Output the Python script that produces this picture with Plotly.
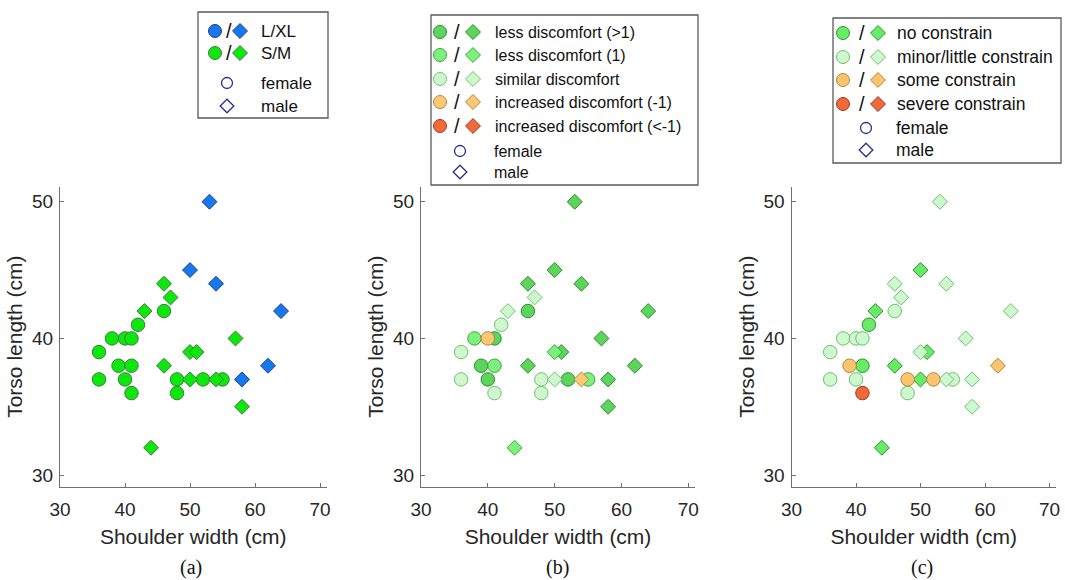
import plotly.graph_objects as go

# ---------------- data ----------------
shoulder = [36, 36, 38, 40, 41, 39, 41, 40, 41, 42, 46, 48, 48, 52, 55,
            43, 46, 47, 44, 46, 50, 51, 50, 54, 57, 58, 53, 50, 54, 64, 62, 58]
torso = [39, 37, 40, 40, 40, 38, 38, 37, 36, 41, 42, 37, 36, 37, 37,
         42, 44, 43, 32, 38, 39, 39, 37, 37, 40, 35, 50, 45, 44, 42, 38, 37]
gender = ["F"] * 15 + ["M"] * 17
garment = ["S/M"] * 26 + ["L/XL"] * 6
discomfort = ["sim", "sim", "eq1", "inc1", "gt1", "gt1", "eq1", "gt1", "sim", "sim", "gt1", "sim", "sim", "gt1", "eq1",
              "sim", "gt1", "sim", "eq1", "gt1", "eq1", "gt1", "sim", "inc1", "gt1", "gt1", "gt1", "gt1", "gt1", "gt1", "gt1", "gt1"]
constrain = ["minor", "minor", "minor", "minor", "minor", "some", "no", "minor", "severe", "no", "minor", "some", "minor", "some", "minor",
             "no", "minor", "minor", "no", "no", "minor", "no", "no", "minor", "minor", "minor", "minor", "no", "minor", "minor", "some", "minor"]

size_keys = ["L/XL", "S/M"]
size_labels = ["L/XL", "S/M"]
disc_keys = ["gt1", "eq1", "sim", "inc1", "inc2"]
disc_labels = ["less discomfort (>1)", "less discomfort (1)", "similar discomfort",
               "increased discomfort (-1)", "increased discomfort (<-1)"]
cons_keys = ["no", "minor", "some", "severe"]
cons_labels = ["no constrain", "minor/little constrain", "some constrain", "severe constrain"]

x_ticks = [30, 40, 50, 60, 70]
y_ticks = [30, 40, 50]

# ---------------- styles ----------------
STY = {
    "L/XL": ("#1677f0", "#243f86"),
    "S/M": ("#0ce80c", "#3f7a3f"),
    "gt1": ("#5dd55d", "#2b8c2b"),
    "eq1": ("#7df17d", "#3ca83c"),
    "sim": ("#cff6cf", "#6cc46c"),
    "inc1": ("#fdc776", "#ad8a3c"),
    "inc2": ("#f4693b", "#9c3f1c"),
    "no": ("#68ec68", "#2c922c"),
    "minor": ("#d0f8d0", "#68c268"),
    "some": ("#fcc46e", "#a88a40"),
    "severe": ("#f2683a", "#983a1a"),
}
SYM = {"F": "circle", "M": "diamond"}
MSIZE = {"F": 13.5, "M": 11.5}
W, H = 1065, 580
FONT = "Liberation Sans, Arial, sans-serif"

fig = go.Figure()

def px(x):
    return x / W

def py(y):
    return 1 - y / H

panels = [("x", "y", garment, size_keys), ("x2", "y2", discomfort, disc_keys), ("x3", "y3", constrain, cons_keys)]
for xa, ya, cat, keys in panels:
    for k in keys:
        for g in ["F", "M"]:
            idx = [i for i in range(len(shoulder)) if cat[i] == k and gender[i] == g]
            if not idx:
                continue
            fig.add_trace(go.Scatter(
                x=[shoulder[i] for i in idx], y=[torso[i] for i in idx],
                mode="markers", xaxis=xa, yaxis=ya, showlegend=False, hoverinfo="skip",
                marker=dict(symbol=SYM[g], size=MSIZE[g], color=STY[k][0],
                            line=dict(color=STY[k][1], width=1))))

# ---------------- axes ----------------
xdoms = [(60, 326.5), (421, 695), (791.5, 1056)]
ydom = [py(486.7), py(186.7)]
axstyle = dict(showline=True, linecolor="#707070", linewidth=1.3, ticks="inside", ticklen=4,
               tickcolor="#707070", showgrid=False, zeroline=False, automargin=False,
               tickfont=dict(family=FONT, size=19, color="#262626"))
for i, (a, b) in enumerate(xdoms):
    s = "" if i == 0 else str(i + 1)
    fig.layout["xaxis" + s] = dict(domain=[px(a), px(b)], range=[30, 71], tickvals=x_ticks,
                                   anchor="y" + s, fixedrange=True, ticklabelstandoff=5,
                                   title=dict(text="Shoulder width (cm)", standoff=10,
                                              font=dict(family=FONT, size=21, color="#262626")),
                                   **axstyle)
    fig.layout["yaxis" + s] = dict(domain=ydom, range=[29.15, 51.1], tickvals=y_ticks,
                                   anchor="x" + s, fixedrange=True, ticklabelstandoff=2,
                                   title=dict(text="Torso length (cm)", standoff=3,
                                              font=dict(family=FONT, size=21, color="#262626")),
                                   **axstyle)

# overlay axis in pixel units for the legend boxes
fig.layout["xaxis4"] = dict(domain=[0, 1], range=[0, W], visible=False, anchor="y4", fixedrange=True, automargin=False)
fig.layout["yaxis4"] = dict(domain=[0, 1], range=[H, 0], visible=False, anchor="x4", fixedrange=True, automargin=False)

annotations = []
shapes = []

def legend(box, rows, cx, sx, dx, tx, gx, gtx, keys, labels, fs):
    x0, y0, x1, y1 = box
    shapes.append(dict(type="rect", xref="x4", yref="y4", x0=x0, y0=y0, x1=x1, y1=y1,
                       line=dict(color="#5a5a5a", width=1.3), fillcolor="rgba(0,0,0,0)"))
    for r, (k, lab) in zip(rows, zip(keys, labels)):
        fig.add_trace(go.Scatter(x=[cx], y=[r], xaxis="x4", yaxis="y4", mode="markers",
                                 showlegend=False, hoverinfo="skip",
                                 marker=dict(symbol="circle", size=13, color=STY[k][0],
                                             line=dict(color=STY[k][1], width=1))))
        fig.add_trace(go.Scatter(x=[dx], y=[r], xaxis="x4", yaxis="y4", mode="markers",
                                 showlegend=False, hoverinfo="skip",
                                 marker=dict(symbol="diamond", size=11.5, color=STY[k][0],
                                             line=dict(color=STY[k][1], width=1))))
        annotations.append(dict(x=sx, y=r, xref="x4", yref="y4", text="/", showarrow=False,
                                font=dict(family=FONT, size=20, color="#111")))
        annotations.append(dict(x=tx, y=r, xref="x4", yref="y4", text=lab, showarrow=False,
                                xanchor="left", font=dict(family=FONT, size=fs, color="#111")))
    grows = rows[len(keys):]
    for r, (g, lab) in zip(grows, [("F", "female"), ("M", "male")]):
        fig.add_trace(go.Scatter(x=[gx], y=[r], xaxis="x4", yaxis="y4", mode="markers",
                                 showlegend=False, hoverinfo="skip",
                                 marker=dict(symbol=SYM[g], size=11 if g == "F" else 10.5,
                                             color="rgba(0,0,0,0)",
                                             line=dict(color="#2b2f8f", width=1.3))))
        annotations.append(dict(x=gtx, y=r, xref="x4", yref="y4", text=lab, showarrow=False,
                                xanchor="left", font=dict(family=FONT, size=fs, color="#111")))

legend((198, 12, 328, 118), [31, 53, 83, 106], 215, 229, 240, 259, 227, 259, size_keys, size_labels, 17)
legend((431, 15, 698, 185), [32, 55, 79, 102, 126, 151, 172], 440, 457, 473, 493, 460, 492, disc_keys, disc_labels, 16)
legend((833, 18, 1061, 163), [33, 57, 80, 104, 128, 150], 843, 862, 878, 895, 866, 894, cons_keys, cons_labels, 17.5)

for lab, cx in [("(a)", 191), ("(b)", 557), ("(c)", 922)]:
    annotations.append(dict(x=cx, y=567, xref="x4", yref="y4", text=lab, showarrow=False,
                            font=dict(family="Liberation Serif, Times New Roman, serif", size=20, color="#111")))

fig.update_layout(width=W, height=H, margin=dict(l=0, r=0, t=0, b=0, autoexpand=False),
                  paper_bgcolor="white", plot_bgcolor="rgba(0,0,0,0)",
                  annotations=annotations, shapes=shapes, showlegend=False)

fig.write_html("out.html", config={"displayModeBar": False},
               post_script="document.body.style.margin='0px';document.body.style.overflow='hidden';")
